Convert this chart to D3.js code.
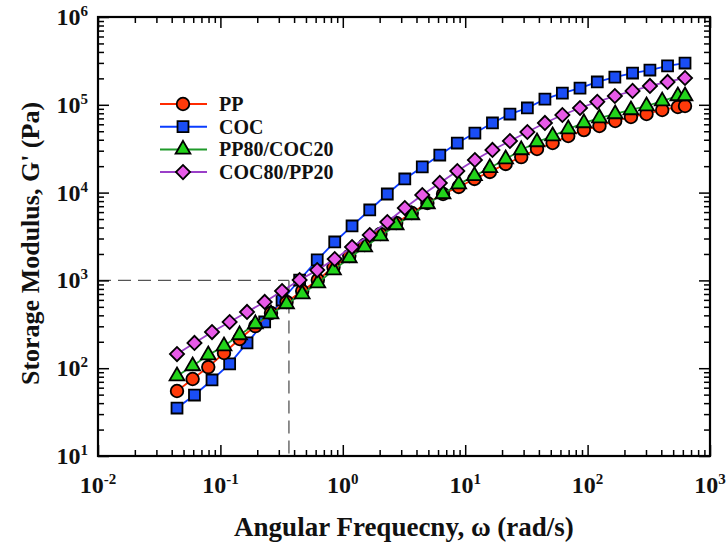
<!DOCTYPE html>
<html><head><meta charset="utf-8">
<script src="https://cdn.jsdelivr.net/npm/d3@7"></script>
<style>body{margin:0;background:#fff}svg{display:block}</style>
</head><body>
<svg id="c" width="726" height="548"></svg>
<script>
// Angular frequency (rad/s) for COC and COC80/PP20
const omegaA = [0.0442,0.0614,0.0854,0.119,0.165,0.230,0.319,0.444,0.618,0.859,1.19,1.66,2.31,3.21,4.46,6.20,8.62,12.0,16.7,23.2,32.2,44.8,62.2,86.7,120,167,233,323,450,625];
// Angular frequency (rad/s) for PP and PP80/COC20
const omegaB = [0.0442,0.0593,0.0796,0.107,0.1435,0.193,0.259,0.347,0.466,0.625,0.839,1.13,1.51,2.03,2.73,3.66,4.91,6.59,8.85,11.9,15.9,21.4,28.7,38.6,51.8,69.5,93.3,125,168,226,303,407,546,625];

const gPP = [55.0,75.3,103,149,215,302,425,568,757,1010,1420,1900,2530,3380,4510,5860,7610,9640,11600,14300,17200,21200,25400,31400,36700,44100,51600,57400,65400,72600,78600,87300,94400,96900];
const gCOC = [35.2,49.5,73.4,112,194,336,598,1010,1710,2740,4170,6340,9640,14300,19600,26800,36700,47700,62100,78500,92000,116000,136000,155000,182000,207000,230000,249000,277000,299000];
const gPP80 = [81.5,106,141,179,239,319,414,539,700,934,1310,1800,2400,3200,4280,5560,7420,9640,12500,15500,19100,24100,30600,37700,44100,53000,62100,70700,78600,87300,96900,110000,126000,126000];
const gCOC80 = [145,194,258,336,437,568,757,1010,1310,1750,2400,3290,4620,6680,9390,12900,17600,23500,30600,38700,49000,62100,76500,92000,108000,126000,144000,164000,182000,202000];

const seriesNames = ["PP","COC","PP80/COC20","COC80/PP20"];
const xExp = [-2,-1,0,1,2,3];
const yExp = [1,2,3,4,5,6];
const crossover = {omega:0.363, g:1000};

const svg = d3.select("#c");
const X0=98, X1=710, Y0=456, Y1=17;
const x = d3.scaleLog().domain([1e-2,1e3]).range([X0,X1]);
const y = d3.scaleLog().domain([10,1e6]).range([Y0,Y1]);
const FONT = "'Liberation Serif','Times New Roman',serif";

const series = [
  {name:seriesNames[0], xs:omegaB, ys:gPP, line:"#ff2a00", fill:"#ff3a0a", sym:"circle"},
  {name:seriesNames[1], xs:omegaA, ys:gCOC, line:"#0a3cff", fill:"#1a4df5", sym:"square"},
  {name:seriesNames[2], xs:omegaB, ys:gPP80, line:"#1f9a2a", fill:"#22d41a", sym:"triangle"},
  {name:seriesNames[3], xs:omegaA, ys:gCOC80, line:"#9a3fc8", fill:"#e85ae8", sym:"diamond"}
];

function symPath(t){
  if(t==="circle") return d3.symbol(d3.symbolCircle, 125)();
  if(t==="square") return d3.symbol(d3.symbolSquare, 120)();
  if(t==="triangle") return d3.symbol(d3.symbolTriangle, 95)();
  return d3.symbol(d3.symbolSquare, 100)();
}
function symTransform(t, px, py){
  return t==="diamond" ? `translate(${px},${py}) rotate(45)` : `translate(${px},${py})`;
}

// dashed guide lines
const dash = svg.append("g").attr("stroke","#555").attr("stroke-width",1.3).attr("stroke-dasharray","13,7").attr("fill","none");
dash.append("line").attr("x1",x(1e-2)).attr("x2",x(crossover.omega)).attr("y1",y(crossover.g)).attr("y2",y(crossover.g));
dash.append("line").attr("x1",x(crossover.omega)).attr("x2",x(crossover.omega)).attr("y1",y(crossover.g)).attr("y2",y(10));

// series
const order = [1,0,2,3];
const line = d3.line();
order.forEach(i=>{
  const s = series[i];
  const pts = s.xs.map((v,k)=>[x(v), y(s.ys[k])]);
  const g = svg.append("g");
  g.append("path").attr("d", line(pts)).attr("fill","none").attr("stroke",s.line).attr("stroke-width",1.8);
  g.selectAll("path.m").data(pts).join("path").attr("class","m")
    .attr("d", symPath(s.sym)).attr("transform", d=>symTransform(s.sym,d[0],d[1]))
    .attr("fill", s.fill).attr("stroke","#000").attr("stroke-width",1.8);
});

// axes (ticks inward on all four sides)
const xt = x.ticks();
const yt = y.ticks();
const isMajor = v => Math.abs(Math.log10(v)-Math.round(Math.log10(v)))<1e-9;
const xMin = xt.filter(v=>!isMajor(v)), xMaj = xt.filter(isMajor);
const yMin = yt.filter(v=>!isMajor(v)), yMaj = yt.filter(isMajor);
function ax(gen, vals, size, tx, ty){
  const g = svg.append("g").attr("transform",`translate(${tx},${ty})`)
    .call(gen.tickValues(vals).tickSize(size).tickSizeOuter(0).tickFormat(""));
  g.select(".domain").remove();
  g.selectAll(".tick line").attr("stroke","#000").attr("stroke-width",1.5);
}
ax(d3.axisBottom(x), xMin, -6, 0, Y0);
ax(d3.axisBottom(x), xMaj, -11, 0, Y0);
ax(d3.axisTop(x), xMin, -6, 0, Y1);
ax(d3.axisTop(x), xMaj, -11, 0, Y1);
ax(d3.axisLeft(y), yMin, -6, X0, 0);
ax(d3.axisLeft(y), yMaj, -11, X0, 0);
ax(d3.axisRight(y), yMin, -6, X1, 0);
ax(d3.axisRight(y), yMaj, -11, X1, 0);
svg.append("rect").attr("x",X0).attr("y",Y1).attr("width",X1-X0).attr("height",Y0-Y1)
  .attr("fill","none").attr("stroke","#000").attr("stroke-width",2.2);

// tick labels
const lab = svg.append("g").attr("font-family",FONT).attr("font-weight","bold").attr("fill","#111");
xExp.forEach(e=>{
  const t = lab.append("text").attr("x", x(Math.pow(10,e))).attr("y", 493).attr("text-anchor","middle").attr("font-size",24);
  t.append("tspan").text("10");
  t.append("tspan").attr("dy",-9).attr("font-size",15).text(String(e));
});
yExp.forEach(e=>{
  const t = lab.append("text").attr("x", 88).attr("y", y(Math.pow(10,e))+8).attr("text-anchor","end").attr("font-size",24);
  t.append("tspan").text("10");
  t.append("tspan").attr("dy",-9).attr("font-size",15).text(String(e));
});

// axis titles
svg.append("text").attr("x",404).attr("y",536).attr("text-anchor","middle")
  .attr("font-family",FONT).attr("font-weight","bold").attr("font-size",27).attr("fill","#111")
  .text("Angular Frequecny, \u03c9 (rad/s)");
svg.append("text").attr("transform",`translate(39,${(Y0+Y1)/2+7}) rotate(-90)`).attr("text-anchor","middle")
  .attr("font-family",FONT).attr("font-weight","bold").attr("font-size",26).attr("fill","#111")
  .text("Storage Modulus, G' (Pa)");

// legend
const lg = svg.append("g");
series.forEach((s,i)=>{
  const ly = 104 + i*22.7;
  lg.append("line").attr("x1",160).attr("x2",207).attr("y1",ly).attr("y2",ly).attr("stroke",s.line).attr("stroke-width",2);
  lg.append("path").attr("d",symPath(s.sym)).attr("transform",symTransform(s.sym,183,ly))
    .attr("fill",s.fill).attr("stroke","#000").attr("stroke-width",1.8);
  lg.append("text").attr("x",219).attr("y",ly+7).attr("font-family",FONT).attr("font-weight","bold")
    .attr("font-size",20).attr("fill","#111").text(s.name);
});
</script>
</body></html>
